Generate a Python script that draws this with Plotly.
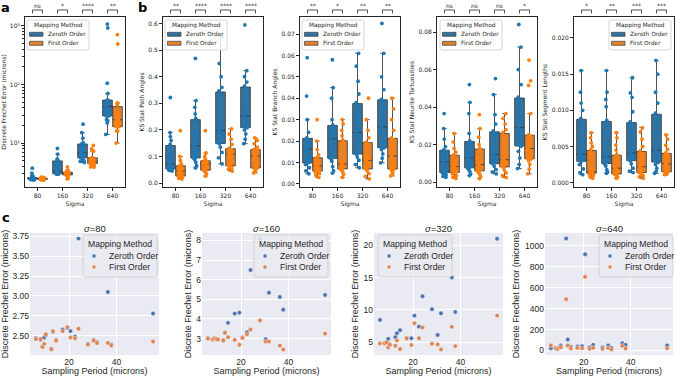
import plotly.graph_objects as go

W, H = 677, 379

sigma_labels = ['80', '160', '320', '640']
method_names = ['Zeroth Order', 'First Order']

# ---------------- panel c / panel a : per-neuron Frechet errors ----------------
sampling_period = [6.0, 8.0, 8.8, 9.5, 10.2, 12.5, 13.2, 14.5, 17.3, 19.3, 20.6, 22.5, 24.0, 28.0, 30.4, 31.8, 36.4, 37.8, 55.5]

frechet_zeroth_80 = [2.47, 2.45, 2.37, 2.48, 2.51, 2.34, 2.55, 2.45, 2.58, 2.60, 2.56, 2.49, 3.72, 2.40, 2.45, 2.42, 3.05, 2.39, 2.78]
frechet_first_80 = [2.46, 2.46, 2.36, 2.40, 2.52, 2.33, 2.56, 2.44, 2.56, 2.61, 2.48, 2.47, 2.59, 2.39, 2.44, 2.41, 2.41, 2.38, 2.43]
frechet_zeroth_160 = [3.02, 2.97, 3.02, 2.99, 2.97, 2.92, 3.31, 3.80, 4.27, 4.32, 3.05, 3.32, 6.49, 8.10, 2.97, 5.34, 5.12, 4.47, 5.22]
frechet_first_160 = [3.00, 2.95, 3.00, 2.97, 2.95, 2.90, 3.29, 3.07, 2.93, 2.68, 3.03, 3.22, 3.46, 3.92, 2.85, 2.85, 2.64, 2.44, 3.25]
frechet_zeroth_320 = [8.44, 4.85, 5.00, 5.50, 4.65, 5.77, 6.38, 6.85, 5.62, 5.60, 9.10, 7.40, 12.10, 10.10, 6.10, 9.46, 15.00, 9.67, 21.00]
frechet_first_320 = [4.80, 4.80, 4.95, 4.18, 4.60, 4.44, 5.26, 3.92, 5.56, 4.54, 7.92, 5.60, 7.26, 4.74, 4.64, 3.87, 7.36, 4.38, 9.10]
frechet_zeroth_640 = [22, 24, 14, 31, 48, 1070, 105, 35, 38, 42, 920, 29, 54, 29, 48, 25, 70, 54, 48]
frechet_first_640 = [48, 22, 16, 29, 32, 490, 48, 19, 25, 22, 705, 16, 25, 16, 25, 10, 45, 19, 22]

# ---------------- panel b : KS statistics ----------------
ks_path_zeroth_80 = [0.045, 0.048, 0.050, 0.052, 0.053, 0.054, 0.058, 0.062, 0.066, 0.072, 0.080, 0.095, 0.110, 0.130, 0.145, 0.160, 0.175, 0.190, 0.322]
ks_path_first_80 = [0.015, 0.018, 0.021, 0.024, 0.026, 0.027, 0.031, 0.036, 0.040, 0.045, 0.048, 0.052, 0.057, 0.062, 0.066, 0.072, 0.085, 0.100, 0.197]
ks_path_zeroth_160 = [0.057, 0.065, 0.078, 0.088, 0.094, 0.096, 0.105, 0.118, 0.128, 0.140, 0.150, 0.165, 0.190, 0.225, 0.243, 0.260, 0.285, 0.310, 0.469]
ks_path_first_160 = [0.026, 0.034, 0.040, 0.045, 0.048, 0.050, 0.055, 0.060, 0.066, 0.072, 0.074, 0.076, 0.079, 0.082, 0.084, 0.090, 0.100, 0.113, 0.197]
ks_path_zeroth_320 = [0.072, 0.095, 0.115, 0.135, 0.148, 0.152, 0.165, 0.178, 0.188, 0.197, 0.205, 0.225, 0.270, 0.330, 0.347, 0.360, 0.400, 0.450, 0.550]
ks_path_first_320 = [0.045, 0.052, 0.057, 0.062, 0.064, 0.066, 0.074, 0.085, 0.098, 0.109, 0.112, 0.116, 0.120, 0.126, 0.130, 0.145, 0.165, 0.185, 0.204]
ks_path_zeroth_640 = [0.148, 0.165, 0.185, 0.200, 0.208, 0.212, 0.220, 0.230, 0.242, 0.253, 0.262, 0.280, 0.310, 0.350, 0.365, 0.380, 0.400, 0.423, 0.595]
ks_path_first_640 = [0.038, 0.045, 0.050, 0.054, 0.056, 0.058, 0.065, 0.078, 0.090, 0.102, 0.106, 0.110, 0.115, 0.122, 0.127, 0.135, 0.148, 0.160, 0.170]

ks_branch_zeroth_80 = [0.0047, 0.0060, 0.0075, 0.0090, 0.0097, 0.0099, 0.0115, 0.0130, 0.0150, 0.0163, 0.0172, 0.0185, 0.0195, 0.0205, 0.0215, 0.0240, 0.0300, 0.0410, 0.0590]
ks_branch_first_80 = [0.0030, 0.0040, 0.0048, 0.0055, 0.0059, 0.0061, 0.0066, 0.0072, 0.0078, 0.0084, 0.0090, 0.0098, 0.0108, 0.0117, 0.0123, 0.0135, 0.0160, 0.0200, 0.0300]
ks_branch_zeroth_160 = [0.0050, 0.0060, 0.0080, 0.0105, 0.0118, 0.0122, 0.0145, 0.0170, 0.0195, 0.0210, 0.0225, 0.0240, 0.0255, 0.0265, 0.0275, 0.0300, 0.0400, 0.0450, 0.0580]
ks_branch_first_160 = [0.0030, 0.0045, 0.0055, 0.0063, 0.0069, 0.0071, 0.0077, 0.0083, 0.0088, 0.0093, 0.0105, 0.0125, 0.0150, 0.0190, 0.0205, 0.0225, 0.0250, 0.0280, 0.0300]
ks_branch_zeroth_320 = [0.0075, 0.0090, 0.0110, 0.0125, 0.0138, 0.0142, 0.0165, 0.0195, 0.0220, 0.0240, 0.0260, 0.0285, 0.0320, 0.0360, 0.0380, 0.0420, 0.0480, 0.0550, 0.0610]
ks_branch_first_320 = [0.0023, 0.0035, 0.0048, 0.0060, 0.0068, 0.0072, 0.0082, 0.0095, 0.0102, 0.0110, 0.0120, 0.0135, 0.0160, 0.0185, 0.0195, 0.0215, 0.0250, 0.0300, 0.0400]
ks_branch_zeroth_640 = [0.0098, 0.0120, 0.0140, 0.0160, 0.0168, 0.0172, 0.0195, 0.0220, 0.0245, 0.0266, 0.0290, 0.0320, 0.0355, 0.0385, 0.0395, 0.0440, 0.0500, 0.0610, 0.0750]
ks_branch_first_640 = [0.0037, 0.0045, 0.0052, 0.0062, 0.0068, 0.0072, 0.0085, 0.0100, 0.0115, 0.0130, 0.0145, 0.0160, 0.0180, 0.0205, 0.0215, 0.0250, 0.0300, 0.0350, 0.0400]

ks_tort_zeroth_80 = [0.0027, 0.0032, 0.0040, 0.0048, 0.0052, 0.0054, 0.0068, 0.0085, 0.0098, 0.0110, 0.0122, 0.0138, 0.0152, 0.0165, 0.0173, 0.0190, 0.0230, 0.0286, 0.0366]
ks_tort_first_80 = [0.0020, 0.0028, 0.0036, 0.0045, 0.0052, 0.0054, 0.0062, 0.0070, 0.0078, 0.0084, 0.0092, 0.0105, 0.0120, 0.0138, 0.0146, 0.0160, 0.0180, 0.0215, 0.0260]
ks_tort_zeroth_160 = [0.0036, 0.0045, 0.0058, 0.0068, 0.0076, 0.0080, 0.0090, 0.0105, 0.0118, 0.0128, 0.0140, 0.0155, 0.0180, 0.0210, 0.0220, 0.0260, 0.0366, 0.0425, 0.0520]
ks_tort_first_160 = [0.0020, 0.0030, 0.0042, 0.0052, 0.0060, 0.0064, 0.0072, 0.0080, 0.0088, 0.0094, 0.0102, 0.0115, 0.0135, 0.0168, 0.0180, 0.0200, 0.0240, 0.0286, 0.0360]
ks_tort_zeroth_320 = [0.0045, 0.0055, 0.0068, 0.0085, 0.0098, 0.0102, 0.0115, 0.0128, 0.0138, 0.0148, 0.0160, 0.0180, 0.0220, 0.0255, 0.0273, 0.0310, 0.0360, 0.0467, 0.0552]
ks_tort_first_320 = [0.0025, 0.0035, 0.0050, 0.0065, 0.0080, 0.0088, 0.0098, 0.0108, 0.0115, 0.0120, 0.0140, 0.0165, 0.0200, 0.0245, 0.0265, 0.0280, 0.0310, 0.0340, 0.0366]
ks_tort_zeroth_640 = [0.0073, 0.0095, 0.0130, 0.0165, 0.0192, 0.0200, 0.0230, 0.0260, 0.0280, 0.0292, 0.0320, 0.0360, 0.0400, 0.0435, 0.0453, 0.0520, 0.0600, 0.0720, 0.0840]
ks_tort_first_640 = [0.0045, 0.0070, 0.0095, 0.0115, 0.0124, 0.0128, 0.0145, 0.0160, 0.0172, 0.0180, 0.0190, 0.0205, 0.0225, 0.0245, 0.0253, 0.0366, 0.0516, 0.0540, 0.0650]

ks_seg_zeroth_80 = [0.0011, 0.0014, 0.0019, 0.0025, 0.0029, 0.0031, 0.0033, 0.0035, 0.0037, 0.0039, 0.0045, 0.0058, 0.0075, 0.0083, 0.0089, 0.0100, 0.0110, 0.0125, 0.0155]
ks_seg_first_80 = [0.0006, 0.0008, 0.0010, 0.0012, 0.0013, 0.0013, 0.0014, 0.0014, 0.0015, 0.0015, 0.0018, 0.0024, 0.0033, 0.0040, 0.0046, 0.0050, 0.0055, 0.0062, 0.0069]
ks_seg_zeroth_160 = [0.0013, 0.0015, 0.0018, 0.0023, 0.0026, 0.0028, 0.0030, 0.0032, 0.0034, 0.0036, 0.0042, 0.0055, 0.0068, 0.0080, 0.0086, 0.0105, 0.0115, 0.0125, 0.0155]
ks_seg_first_160 = [0.0006, 0.0008, 0.0009, 0.0011, 0.0012, 0.0012, 0.0014, 0.0016, 0.0018, 0.0020, 0.0022, 0.0026, 0.0031, 0.0035, 0.0039, 0.0045, 0.0052, 0.0062, 0.0069]
ks_seg_zeroth_320 = [0.0014, 0.0016, 0.0020, 0.0026, 0.0030, 0.0032, 0.0034, 0.0037, 0.0039, 0.0041, 0.0048, 0.0058, 0.0070, 0.0080, 0.0084, 0.0098, 0.0118, 0.0124, 0.0145]
ks_seg_first_320 = [0.0006, 0.0008, 0.0010, 0.0012, 0.0014, 0.0014, 0.0016, 0.0018, 0.0020, 0.0022, 0.0025, 0.0029, 0.0035, 0.0040, 0.0044, 0.0050, 0.0060, 0.0070, 0.0076]
ks_seg_zeroth_640 = [0.0013, 0.0016, 0.0020, 0.0025, 0.0028, 0.0030, 0.0034, 0.0038, 0.0042, 0.0045, 0.0055, 0.0068, 0.0080, 0.0090, 0.0096, 0.0110, 0.0125, 0.0150, 0.0169]
ks_seg_first_640 = [0.0011, 0.0012, 0.0013, 0.0014, 0.0015, 0.0015, 0.0018, 0.0021, 0.0024, 0.0026, 0.0028, 0.0031, 0.0035, 0.0039, 0.0041, 0.0046, 0.0052, 0.0060, 0.0066]

# significance labels (per sigma)
sig_a = ['ns', '*', '****', '**']
sig_path = ['**', '****', '****', '****']
sig_branch = ['**', '*', '**', '**']
sig_tort = ['ns', 'ns', 'ns', '*']
sig_seg = ['*', '**', '***', '***']

# ---------------- styling ----------------
BOX_FILL = {'Zeroth Order': '#3274A1', 'First Order': '#E1812C'}
STRIP = {'Zeroth Order': '#1f77b4', 'First Order': '#ff7f0e'}
SCAT = {'Zeroth Order': '#4C72B0', 'First Order': '#DD8452'}
EDGE = '#3d3d3d'
TXT = '#262626'
TOPFONT = 'DejaVu Sans'
BOTFONT = 'Liberation Sans'


def X(px):
    return px / W


def Y(py):
    return 1 - py / H


def rrect(x0, y0, x1, y1, r=2.0):
    p = [
        f"M {X(x0 + r)},{Y(y0)}", f"L {X(x1 - r)},{Y(y0)}", f"Q {X(x1)},{Y(y0)} {X(x1)},{Y(y0 + r)}",
        f"L {X(x1)},{Y(y1 - r)}", f"Q {X(x1)},{Y(y1)} {X(x1 - r)},{Y(y1)}",
        f"L {X(x0 + r)},{Y(y1)}", f"Q {X(x0)},{Y(y1)} {X(x0)},{Y(y1 - r)}",
        f"L {X(x0)},{Y(y0 + r)}", f"Q {X(x0)},{Y(y0)} {X(x0 + r)},{Y(y0)}", "Z"]
    return " ".join(p)


fig = go.Figure()
shapes = []
annos = []

top_x = [(25, 125), (163, 263), (300, 400), (437, 537), (574, 674)]
TOP_Y0, TOP_Y1 = 17, 187
bot_x = [(30, 159), (202, 331), (374, 503), (545, 673)]
BOT_Y0, BOT_Y1 = 233, 355

top_panels = [
    dict(z=[frechet_zeroth_80, frechet_zeroth_160, frechet_zeroth_320, frechet_zeroth_640],
         f=[frechet_first_80, frechet_first_160, frechet_first_320, frechet_first_640],
         title='Discrete Frechet Error (microns)', log=True, rng=[0.25, 3.15], sig=sig_a, leg=27),
    dict(z=[ks_path_zeroth_80, ks_path_zeroth_160, ks_path_zeroth_320, ks_path_zeroth_640],
         f=[ks_path_first_80, ks_path_first_160, ks_path_first_320, ks_path_first_640],
         title='KS Stat Path Angles', rng=[-0.015, 0.625], dtick=0.1, fmt='.1f', sig=sig_path, leg=165),
    dict(z=[ks_branch_zeroth_80, ks_branch_zeroth_160, ks_branch_zeroth_320, ks_branch_zeroth_640],
         f=[ks_branch_first_80, ks_branch_first_160, ks_branch_first_320, ks_branch_first_640],
         title='KS Stat Branch Angles', rng=[-0.0015, 0.078], dtick=0.01, fmt='.2f', sig=sig_branch, leg=302),
    dict(z=[ks_tort_zeroth_80, ks_tort_zeroth_160, ks_tort_zeroth_320, ks_tort_zeroth_640],
         f=[ks_tort_first_80, ks_tort_first_160, ks_tort_first_320, ks_tort_first_640],
         title='KS Stat Neurite Tortuosities', rng=[-0.0025, 0.088], dtick=0.02, fmt='.2f', sig=sig_tort, leg=440),
    dict(z=[ks_seg_zeroth_80, ks_seg_zeroth_160, ks_seg_zeroth_320, ks_seg_zeroth_640],
         f=[ks_seg_first_80, ks_seg_first_160, ks_seg_first_320, ks_seg_first_640],
         title='KS Stat Segment Lengths', rng=[-0.0006, 0.0229], dtick=0.005, fmt='.3f', sig=sig_seg, leg=609),
]

layout_axes = {}


def axname(n):
    return ('x' if n == 1 else f'x{n}'), ('y' if n == 1 else f'y{n}')


def box_legend(x0, y0, w=62, h=30, fs=5.8):
    shapes.append(dict(type='path', path=rrect(x0, y0, x0 + w, y0 + h), xref='paper', yref='paper',
                       fillcolor='rgba(255,255,255,0.85)', line=dict(color='#cccccc', width=0.8), layer='above'))
    annos.append(dict(x=X(x0 + w / 2), y=Y(y0 + 5.5), xref='paper', yref='paper', text='Mapping Method',
                      showarrow=False, xanchor='center', yanchor='middle', font=dict(size=fs, family=TOPFONT, color=TXT)))
    for k, m in enumerate(method_names):
        yc = y0 + 14.3 + 9 * k
        shapes.append(dict(type='rect', xref='paper', yref='paper', x0=X(x0 + 2.5), x1=X(x0 + 16),
                           y0=Y(yc - 2), y1=Y(yc + 2), fillcolor=BOX_FILL[m], line=dict(color=EDGE, width=0.7), layer='above'))
        annos.append(dict(x=X(x0 + 19), y=Y(yc), xref='paper', yref='paper', text=m, showarrow=False,
                          xanchor='left', yanchor='middle', font=dict(size=fs, family=TOPFONT, color=TXT)))


def dot_legend(x0, y0, w=74, h=42, fs=8.6):
    shapes.append(dict(type='path', path=rrect(x0, y0, x0 + w, y0 + h, 2.5), xref='paper', yref='paper',
                       fillcolor='rgba(234,234,242,0.85)', line=dict(color='#cccccc', width=0.8), layer='above'))
    annos.append(dict(x=X(x0 + w / 2), y=Y(y0 + 9), xref='paper', yref='paper', text='Mapping Method',
                      showarrow=False, xanchor='center', yanchor='middle', font=dict(size=fs, family=BOTFONT, color=TXT)))
    for k, m in enumerate(method_names):
        yc = y0 + 21 + 11 * k
        shapes.append(dict(type='circle', xref='paper', yref='paper', x0=X(x0 + 9), x1=X(x0 + 13),
                           y0=Y(yc - 2), y1=Y(yc + 2), fillcolor=SCAT[m], line=dict(color='white', width=0.4), layer='above'))
        annos.append(dict(x=X(x0 + 24), y=Y(yc), xref='paper', yref='paper', text=m, showarrow=False,
                          xanchor='left', yanchor='middle', font=dict(size=fs, family=BOTFONT, color=TXT)))


# ---------------- top row: box + strip ----------------
for i, p in enumerate(top_panels):
    n = i + 1
    xa, ya = axname(n)
    for m, key in zip(method_names, ['z', 'f']):
        xs, ys = [], []
        for s, vals in zip(sigma_labels, p[key]):
            xs += [s] * len(vals)
            ys += vals
        fig.add_trace(go.Box(
            x=xs, y=ys, name=m, offsetgroup=m, xaxis=xa, yaxis=ya,
            boxpoints='all', jitter=0.55, pointpos=0, whiskerwidth=0.45,
            fillcolor=BOX_FILL[m], line=dict(color=EDGE, width=0.9),
            marker=dict(color=STRIP[m], size=3.8), showlegend=False, hoverinfo='skip'))
    x0, x1 = top_x[i]
    xkey = 'xaxis' if n == 1 else f'xaxis{n}'
    ykey = 'yaxis' if n == 1 else f'yaxis{n}'
    layout_axes[xkey] = dict(
        domain=[X(x0), X(x1)], anchor=ya, type='category', categoryorder='array', categoryarray=sigma_labels,
        range=[-0.5, 3.5], showline=True, mirror=True, linecolor=TXT, linewidth=0.8, ticks='outside',
        ticklen=3, tickwidth=0.8, tickcolor=TXT, tickfont=dict(size=6, family=TOPFONT, color=TXT),
        title=dict(text='Sigma', font=dict(size=6, family=TOPFONT, color=TXT), standoff=3),
        showgrid=False, zeroline=False, automargin=False)
    yax = dict(
        domain=[Y(TOP_Y1), Y(TOP_Y0)], anchor=xa, range=p['rng'], showline=True, mirror=True,
        linecolor=TXT, linewidth=0.8, ticks='outside', ticklen=3, tickwidth=0.8, tickcolor=TXT,
        tickfont=dict(size=6, family=TOPFONT, color=TXT),
        title=dict(text=p['title'], font=dict(size=6, family=TOPFONT, color=TXT), standoff=3),
        showgrid=False, zeroline=False, automargin=False)
    if p.get('log'):
        yax.update(type='log', tickvals=[10, 100, 1000],
                   ticktext=['10¹', '10²', '10³'],
                   minor=dict(ticks='outside', ticklen=1.8, tickwidth=0.6, tickcolor=TXT,
                              tickvals=[3, 4, 5, 6, 7, 8, 9, 20, 30, 40, 50, 60, 70, 80, 90,
                                        200, 300, 400, 500, 600, 700, 800, 900]))
    else:
        yax.update(dtick=p['dtick'], tick0=0, tickformat=p['fmt'])
    layout_axes[ykey] = yax

    # significance brackets
    for k, s in enumerate(p['sig']):
        for (a0, a1, b0, b1) in [(k - 0.2, k + 0.2, 10, 10), (k - 0.2, k - 0.2, 10, 13.5), (k + 0.2, k + 0.2, 10, 13.5)]:
            shapes.append(dict(type='line', xref=xa, yref='paper', x0=a0, x1=a1, y0=Y(b0), y1=Y(b1),
                               line=dict(color=TXT, width=0.8)))
        annos.append(dict(x=k, y=Y(10.2), xref=xa, yref='paper', text=s, showarrow=False,
                          xanchor='center', yanchor='bottom', borderpad=0,
                          font=dict(size=6, family=TOPFONT, color=TXT)))
    box_legend(p['leg'], 20)

# ---------------- bottom row: scatter ----------------
bot_panels = [
    dict(s='80', z=frechet_zeroth_80, f=frechet_first_80, rng=[2.26, 3.79], dtick=0.25, fmt='.2f', leg=83),
    dict(s='160', z=frechet_zeroth_160, f=frechet_first_160, rng=[2.16, 8.38], dtick=1, fmt='d', leg=254),
    dict(s='320', z=frechet_zeroth_320, f=frechet_first_320, rng=[3.0, 21.9], dtick=5, fmt='d', leg=378),
    dict(s='640', z=frechet_zeroth_640, f=frechet_first_640, rng=[-43, 1123], dtick=200, fmt='d', leg=599),
]

for i, p in enumerate(bot_panels):
    n = i + 6
    xa, ya = axname(n)
    for m, key in zip(method_names, ['z', 'f']):
        fig.add_trace(go.Scatter(
            x=sampling_period, y=p[key], mode='markers', name=m, xaxis=xa, yaxis=ya,
            marker=dict(color=SCAT[m], size=4.4, line=dict(color='white', width=0.4)),
            showlegend=False, hoverinfo='skip'))
    x0, x1 = bot_x[i]
    layout_axes[f'xaxis{n}'] = dict(
        domain=[X(x0), X(x1)], anchor=ya, range=[3.5, 58], dtick=20, tick0=0,
        showline=False, ticks='', showgrid=True, gridcolor='white', gridwidth=1, zeroline=False,
        tickfont=dict(size=8.5, family=BOTFONT, color=TXT),
        title=dict(text='Sampling Period (microns)', font=dict(size=9, family=BOTFONT, color=TXT), standoff=1),
        automargin=False)
    layout_axes[f'yaxis{n}'] = dict(
        domain=[Y(BOT_Y1), Y(BOT_Y0)], anchor=xa, range=p['rng'], dtick=p['dtick'], tick0=0,
        tickformat=p['fmt'], showline=False, ticks='', showgrid=True, gridcolor='white', gridwidth=1,
        zeroline=False, tickfont=dict(size=8.5, family=BOTFONT, color=TXT),
        title=dict(text='Discrete Frechet Error (microns)', font=dict(size=9, family=BOTFONT, color=TXT), standoff=3),
        automargin=False)
    shapes.append(dict(type='rect', xref=f'{xa} domain', yref=f'{ya} domain', x0=0, x1=1, y0=0, y1=1,
                       fillcolor='#EAEAF2', line=dict(width=0), layer='below'))
    annos.append(dict(x=X((x0 + x1) / 2), y=Y(228), xref='paper', yref='paper',
                      text=f'<i>σ</i>={p["s"]}', showarrow=False, xanchor='center', yanchor='middle',
                      font=dict(size=9.5, family=BOTFONT, color=TXT)))
    dot_legend(p['leg'], 235)

# panel letters
for letter, (lx, ly) in zip(['a', 'b', 'c'], [(5, 7), (142, 7), (6, 217)]):
    annos.append(dict(x=X(lx), y=Y(ly), xref='paper', yref='paper', text=letter, showarrow=False,
                      xanchor='center', yanchor='middle',
                      font=dict(size=13, family='DejaVu Sans', color='black', weight='bold')))

fig.update_layout(
    width=W, height=H, margin=dict(l=0, r=0, t=0, b=0),
    paper_bgcolor='white', plot_bgcolor='white',
    boxmode='group', boxgap=0.2, boxgroupgap=0.04,
    showlegend=False, font=dict(family=TOPFONT, color=TXT),
    shapes=shapes, annotations=annos, **layout_axes)

fig.write_html('out.html')
